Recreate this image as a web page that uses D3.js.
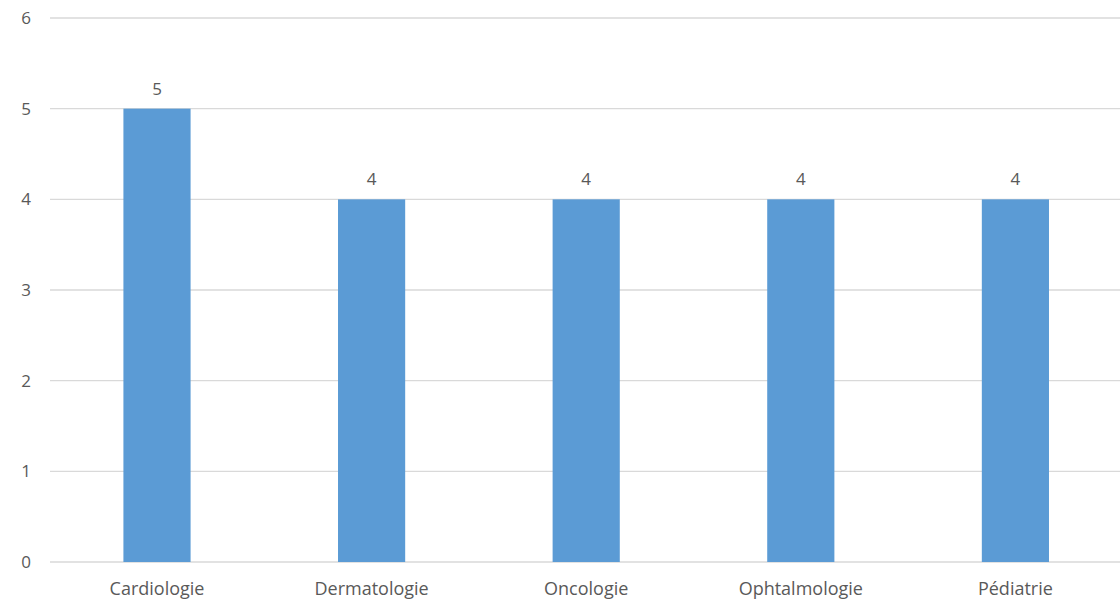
<!DOCTYPE html>
<html><head><meta charset="utf-8">
<script src="https://cdn.jsdelivr.net/npm/d3@7"></script>
<style>body{margin:0;background:#fff}svg{display:block}text{font-family:"Open Sans",sans-serif;fill:#595959}</style>
</head><body>
<svg id="c" width="1120" height="601"></svg>
<script>
const categories = ["Cardiologie","Dermatologie","Oncologie","Ophtalmologie","Pédiatrie"];
const values = [5,4,4,4,4];
const yTicks = [0,1,2,3,4,5,6];

const svg = d3.select("#c");
const x = d3.scaleBand().domain(categories).range([49.7,1122.7]).paddingInner(0).paddingOuter(0);
const y = d3.scaleLinear().domain([0,6]).range([562,18]);
const barW = x.bandwidth()*0.313;

svg.append("g").selectAll("line").data(yTicks).join("line")
  .attr("x1",50).attr("x2",1120).attr("y1",d=>y(d)).attr("y2",d=>y(d))
  .attr("stroke","#d9d9d9").attr("stroke-width",1.3);

svg.append("g").selectAll("text").data(yTicks).join("text")
  .attr("x",31).attr("y",d=>y(d)).attr("dy","0.36em").attr("text-anchor","end")
  .attr("font-size",17).text(d=>d);

svg.append("g").selectAll("rect").data(values).join("rect")
  .attr("x",(d,i)=>x(categories[i])+x.bandwidth()/2-barW/2)
  .attr("width",barW).attr("y",d=>y(d)).attr("height",d=>y(0)-y(d))
  .attr("fill","#5b9bd5");

svg.append("g").selectAll("text").data(values).join("text")
  .attr("x",(d,i)=>x(categories[i])+x.bandwidth()/2).attr("y",d=>y(d)-14)
  .attr("text-anchor","middle").attr("font-size",17).text(d=>d);

svg.append("g").selectAll("text").data(categories).join("text")
  .attr("x",d=>x(d)+x.bandwidth()/2).attr("y",595)
  .attr("text-anchor","middle").attr("font-size",18).text(d=>d);
</script>
</body></html>
